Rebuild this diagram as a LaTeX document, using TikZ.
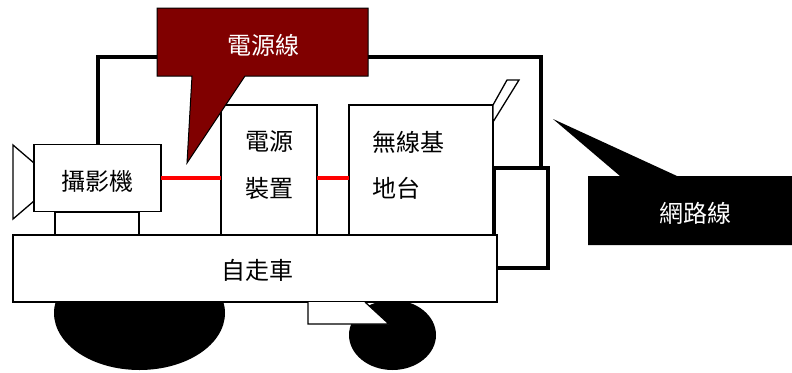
\documentclass[tikz,border=0pt]{standalone}
\usepackage{fontspec}
\newfontfamily\cjk{Noto Sans CJK TC}
\begin{document}
\begin{tikzpicture}[x=1pt,y=-1pt,
  thinline/.style={draw=black,line width=1.3pt},
  box/.style={thinline,fill=white,rectangle,inner sep=0pt,outer sep=0pt},
  lbl/.style={font=\cjk\fontsize{24}{28}\selectfont,inner sep=0pt},
  wire/.style={draw=black,line width=4pt},
  redwire/.style={draw=red,line width=4pt},
  wheel/.style={fill=black},
  callout/.style={draw=black,line width=1pt}]
\useasboundingbox (0,0) rectangle (792,372);

% wheels (their tops sit behind the chassis)
\fill[wheel] (139.5,313) ellipse [x radius=85.5, y radius=57];
\fill[wheel] (392.5,335) ellipse [x radius=43.5, y radius=35];

% network cable loop beside the base station
\node[draw=black,line width=4pt,rectangle,inner sep=0pt,minimum width=54pt,minimum height=100pt] (netframe) at (521,218) {};
\coordinate (wtop) at (541,57);

% camera lens, body and stand
\draw[thinline,fill=white] (13,145) -- (34,163) -- (34,201) -- (13,219) -- cycle;
\node[box,minimum width=84pt,minimum height=23pt] (stand) at (97,223.5) {};
\node[box,minimum width=127pt,minimum height=67pt] (cam) at (97.5,178) {};
\node[lbl] (camtxt) at (97.5,181) {攝影機};

% power unit and wireless base station
\node[box,minimum width=96pt,minimum height=130pt] (pow) at (269,170) {};
\node[lbl] (powa) at (269,142) {電源};
\node[lbl] (powb) at (269,188) {裝置};
\node[box,minimum width=144pt,minimum height=130pt] (base) at (421,170) {};
\node[lbl,anchor=west] (basea) at (372,142) {無線基};
\node[lbl,anchor=west] (baseb) at (372,188) {地台};

% antenna
\draw[thinline,fill=white] (base.north east) -- (507,80) -- (519,80) -- (493,122) -- cycle;

% robot car chassis
\node[box,minimum width=484pt,minimum height=67pt] (car) at (255,268.5) {};
\node[lbl] (cartxt) at (257,270) {自走車};
\draw[thinline,fill=white] (308,302) -- (308,324) -- (389,324) -- (365,302);

% cables
\draw[wire] (cam.north) |- (wtop) -- (wtop |- netframe.north);
\draw[redwire] (cam.east) -- (cam.east -| pow.west);
\draw[redwire] (cam.east -| pow.east) -- (cam.east -| base.west);

% callouts
\draw[callout,fill={rgb,255:red,128;green,0;blue,0}]
  (157,8) -- (368,8) -- (368,76) -- (245,76) -- (187,163) -- (192,76) -- (157,76) -- cycle;
\node[lbl,text=white] (pwrlabel) at (263,45) {電源線};
\coordinate (nettip) at (553,119);
\fill[black] (588,176) -- (620,176) -- (nettip) -- (677,176) -- (792,176) -- (792,245) -- (588,245) -- cycle;
\node[lbl,text=white] (netlabel) at (695,213) {網路線};
\end{tikzpicture}
\end{document}
